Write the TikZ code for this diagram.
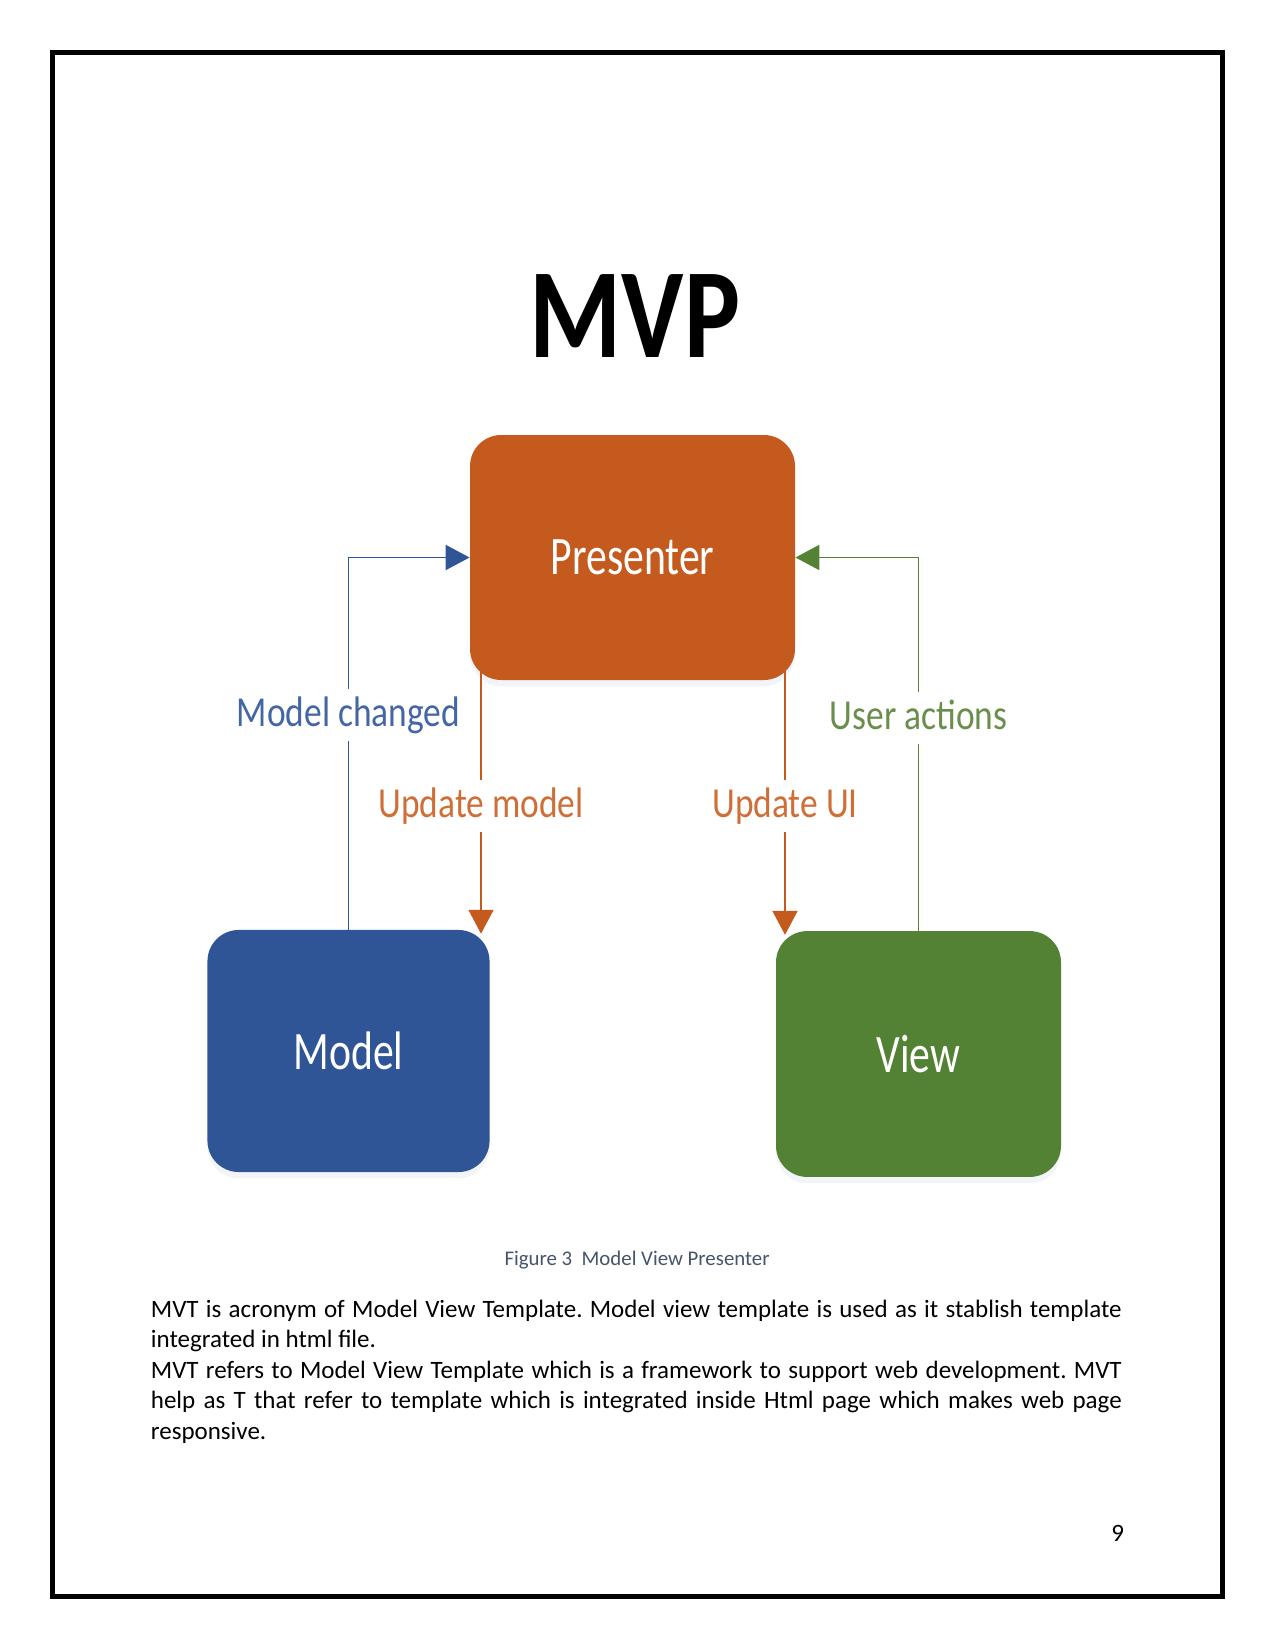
\documentclass[tikz,border=0pt]{standalone}
\usepackage{fontspec}
\setmainfont{Carlito}
\usepackage{graphicx}
\definecolor{MvpOrange}{HTML}{C55A1F}
\definecolor{MvpBlue}{HTML}{2F5597}
\definecolor{MvpGreen}{HTML}{548235}
\definecolor{MvpBlueText}{HTML}{4466A6}
\definecolor{MvpOrangeText}{HTML}{CF6E36}
\definecolor{MvpGreenText}{HTML}{6A8E4C}
\definecolor{MvpCaption}{HTML}{44546A}
\definecolor{MvpShadow}{HTML}{A7B3C6}
\definecolor{MvpBlack}{HTML}{000000}
\usetikzlibrary{arrows.meta, shadows}
\setlength{\parindent}{0pt}
\frenchspacing
\newcommand{\boxtext}[1]{\scalebox{0.77}[1]{#1}}
\newcommand{\flowtext}[1]{\scalebox{0.83}[1]{#1}}
\tikzset{
    box/.style={
        fill=#1,
        text=white,
        rounded corners=15pt,
        minimum width=136pt,
        minimum height=117pt,
        inner sep=0pt,
        font=\fontsize{26}{30}\selectfont,
        drop shadow={shadow xshift=0pt, shadow yshift=-3pt, opacity=0.15, fill=MvpShadow}
    },
    box/.default=MvpOrange,
    flowlabel/.style={
        text=#1,
        fill=white,
        inner sep=3.2pt,
        text height=14.4pt,
        text depth=3.8pt,
        font=\fontsize{20.5}{24}\selectfont
    },
    link/.style={
        line width=0.9pt,
        #1
    },
    flow/.style={
        -{Triangle[length=11.5pt,width=12pt]},
        line width=0.9pt,
        #1
    },
    title/.style={
        inner sep=0pt,
        text=MvpBlack
    },
    caption/.style={
        inner sep=0pt,
        text=MvpCaption,
        font=\fontsize{10}{12}\selectfont
    },
    bodytext/.style={
        inner sep=0pt,
        text width=466pt,
        align=justify,
        font=\fontsize{12}{14.65}\selectfont
    },
    pageframe/.style={
        draw=MvpBlack,
        line width=2.4pt
    }
}
\begin{document}
\begin{tikzpicture}[x=0.48pt, y=-0.48pt]
    \useasboundingbox (0,0) rectangle (1275,1651);
    \draw[pageframe] (52.5,52.5) rectangle (1222.5,1596.5);

    % Title
    \node[title] (mvp) at (635,316.5) {\resizebox{101pt}{39.8pt}{\bfseries MVP}};

    % Boxes
    \node[box=MvpOrange, minimum width=156pt, minimum height=117.6pt] (presenter) at (632.5,557.5) {\boxtext{Presenter}};
    \node[box=MvpBlue, minimum width=135.4pt, minimum height=116.2pt] (model) at (348.5,1051) {\boxtext{Model}};
    \node[box=MvpGreen, minimum width=136.8pt, minimum height=118pt] (view) at (918.5,1054) {\boxtext{View}};

    % Labels on the connectors
    \node[flowlabel=MvpBlueText, anchor=base] (changed) at (348.5,726) {\flowtext{Model changed}};
    \node[flowlabel=MvpGreenText, anchor=base] (actions) at (918.5,729) {\flowtext{User actions}};
    \node[flowlabel=MvpOrangeText, anchor=base] (updmodel) at (481,817) {\flowtext{Update model}};
    \node[flowlabel=MvpOrangeText, anchor=base] (updui) at (785,817) {\flowtext{Update UI}};

    % Connectors
    \draw[link=MvpBlue] (model.north) -- (changed);
    \draw[flow=MvpBlue] (changed) |- (presenter.west);
    \draw[link=MvpGreen] (view.north) -- (actions);
    \draw[flow=MvpGreen] (actions) |- (presenter.east);
    \draw[link=MvpOrange] (presenter.center -| updmodel) -- (updmodel);
    \draw[flow=MvpOrange] (updmodel) -- ([yshift=-2pt]updmodel |- model.north);
    \draw[link=MvpOrange] (presenter.center -| updui) -- (updui);
    \draw[flow=MvpOrange] (updui) -- ([yshift=-2pt]updui |- view.north);

    % Caption and text
    \node[caption, anchor=base] (figcap) at (637,1265) {Figure 3\ \ Model View Presenter};
    \node[bodytext, anchor=base west] (body) at (150.5,1317) {MVT is acronym of Model View Template. Model view template is used as it stablish template\linebreak integrated in html file.\par MVT refers to Model View Template which is a framework to support web development. MVT\linebreak help as T that refer to template which is integrated inside Html page which makes web page\linebreak responsive.};
    \node[anchor=base east, inner sep=0pt, font=\fontsize{12}{14}\selectfont] (pageno) at (1124.5,1541.5) {9};
\end{tikzpicture}
\end{document}
